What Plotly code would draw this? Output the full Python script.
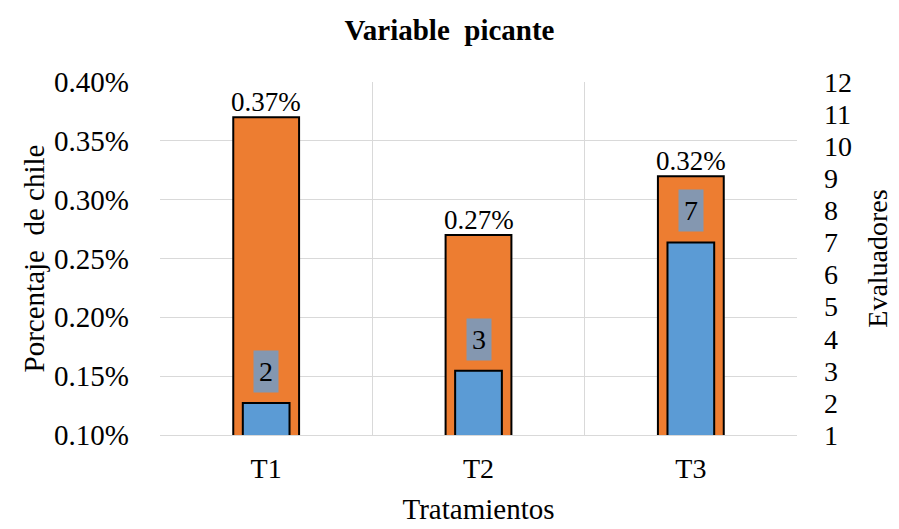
import plotly.graph_objects as go

categories = ["T1", "T2", "T3"]
porcentaje = [0.0037, 0.0027, 0.0032]
evaluadores = [2, 3, 7]
pct_labels = ["0.37%", "0.27%", "0.32%"]

FONT = "Times New Roman"
TFONT = "Liberation Serif"

fig = go.Figure()
fig.add_trace(go.Bar(
    x=categories, y=porcentaje, width=0.31,
    marker=dict(color="#ED7D31", line=dict(color="black", width=2)),
    yaxis="y", showlegend=False, hoverinfo="skip"))
fig.add_trace(go.Bar(
    x=categories, y=evaluadores, width=0.22,
    marker=dict(color="#5B9BD5", line=dict(color="black", width=2)),
    yaxis="y2", showlegend=False, hoverinfo="skip"))

for c, v, t in zip(categories, porcentaje, pct_labels):
    fig.add_annotation(x=c, y=v, xref="x", yref="y", text=t, showarrow=False,
                       yanchor="bottom", yshift=-2, font=dict(family=FONT, size=27, color="black"))
for c, v in zip(categories, evaluadores):
    fig.add_annotation(x=c, y=v, xref="x", yref="y2", text=str(v), showarrow=False,
                       yanchor="bottom", yshift=10, bgcolor="#8497B0", borderpad=5,
                       font=dict(family=FONT, size=28, color="black"))

fig.update_layout(
    width=899, height=529,
    margin=dict(l=160, r=102, t=82, b=94, autoexpand=False),
    paper_bgcolor="white", plot_bgcolor="white",
    barmode="overlay",
    font=dict(family=FONT, color="black"),
    title=dict(text="Variable  picante", x=0.5, xanchor="center", y=0.943, yanchor="middle",
               font=dict(family=TFONT, size=29, color="black", weight="bold")),
    xaxis=dict(tickson="boundaries", showgrid=True, gridcolor="#D9D9D9", gridwidth=1,
               showline=True, linecolor="#D9D9D9", ticks="", ticklabelstandoff=8,
               automargin=False,
               tickfont=dict(family=FONT, size=28),
               title=dict(text="Tratamientos", font=dict(family=FONT, size=29), standoff=16)),
    yaxis=dict(range=[0.001, 0.004], dtick=0.0005, tickformat=".2%", showgrid=True,
               gridcolor="#D9D9D9", zeroline=False, ticks="", ticklabelstandoff=30,
               automargin=False,
               tickfont=dict(family=TFONT, size=29),
               title=dict(text="Porcentaje  de chile", font=dict(family=FONT, size=29), standoff=0)),
    yaxis2=dict(range=[1, 12], dtick=1, overlaying="y", side="right", showgrid=False,
                zeroline=False, ticks="", ticklabelstandoff=26, automargin=False,
                tickfont=dict(family=FONT, size=28),
                title=dict(text="Evaluadores", font=dict(family=FONT, size=28), standoff=16)),
)

fig.write_html("out.html", config={"displayModeBar": False},
               post_script="document.body.style.margin='0';document.body.style.overflow='hidden';")
